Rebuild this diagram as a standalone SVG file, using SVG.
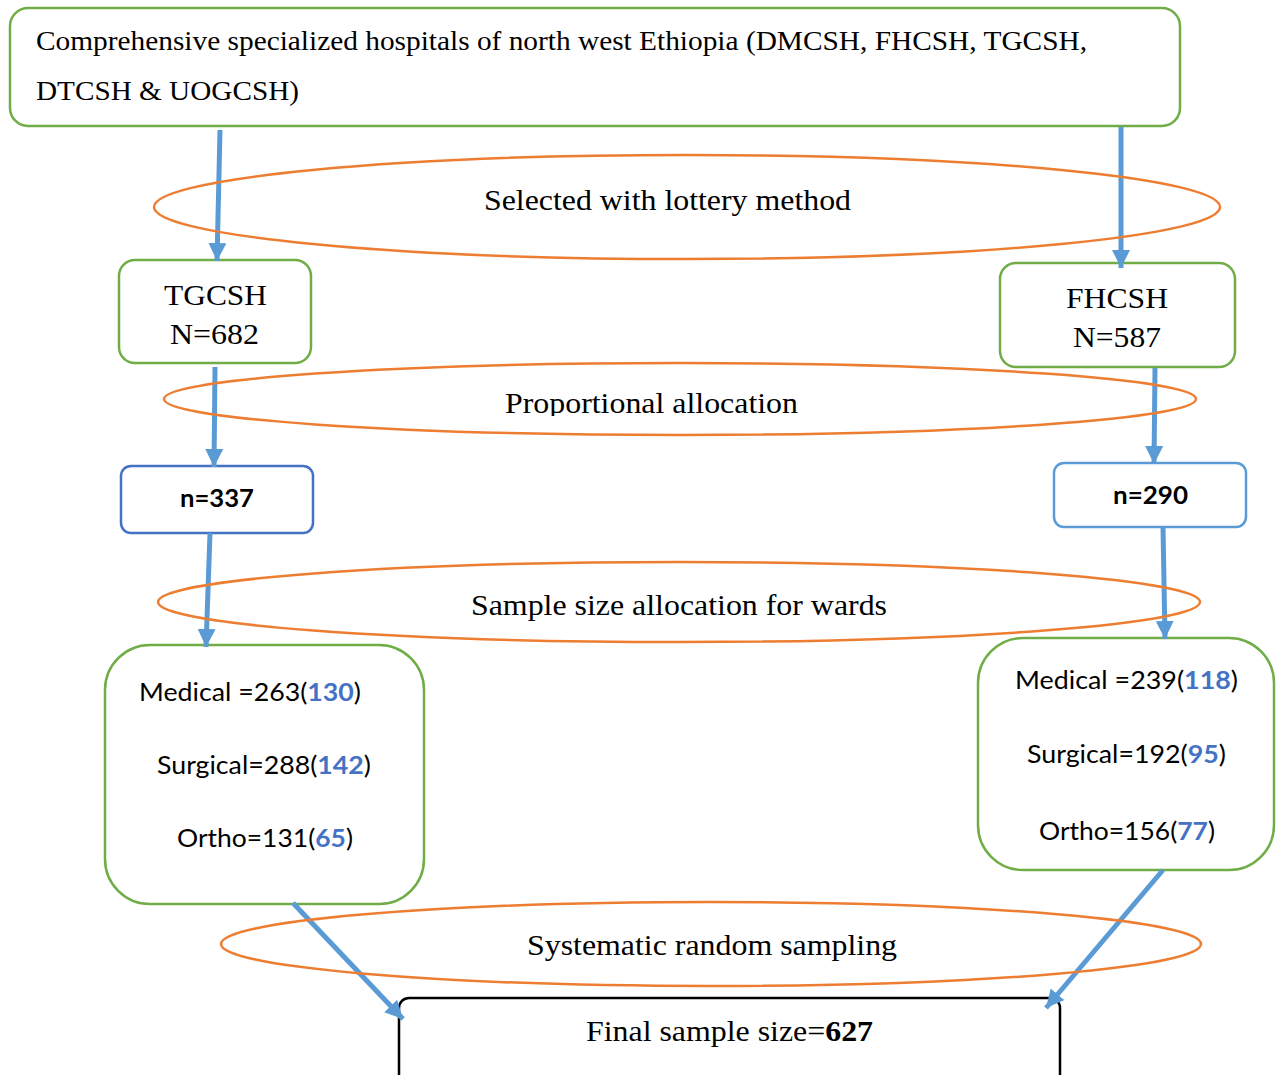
<svg xmlns="http://www.w3.org/2000/svg" width="1276" height="1075" viewBox="0 0 1276 1075">
<defs>
<style>
.box{fill:#fff;stroke:#70AD47;stroke-width:2.5}
.bluebox{fill:#fff;stroke:#4472C4;stroke-width:2.5}
.lbluebox{fill:#fff;stroke:#5B9BD5;stroke-width:2.5}
.blackbox{fill:#fff;stroke:#000;stroke-width:2.5}
.oval{fill:none;stroke:#ED7D31;stroke-width:2.5}
.serif{font-family:"Liberation Serif","Times New Roman",serif;fill:#000}
.sans{font-family:Lato,"Liberation Sans",sans-serif;fill:#000}
.num{fill:#4472C4;font-weight:bold}
.arrow{stroke:#5B9BD5;stroke-width:5;fill:none;marker-end:url(#ah)}
</style>
<marker id="ah" markerUnits="userSpaceOnUse" markerWidth="18" markerHeight="18" viewBox="0 0 18 18" refX="18" refY="9" orient="auto">
<path d="M0,0 L18,9 L0,18 Z" fill="#5B9BD5"/>
</marker>
<clipPath id="clipProp"><rect x="0" y="360" width="1276" height="56"/></clipPath>
</defs>

<g id="top">
<rect class="box" x="10" y="8" width="1170" height="118" rx="18"/>
<text class="serif" x="36" y="50" font-size="27" textLength="1051" lengthAdjust="spacingAndGlyphs">Comprehensive specialized hospitals of north west Ethiopia (DMCSH, FHCSH, TGCSH,</text>
<text class="serif" x="36" y="100" font-size="27" textLength="263" lengthAdjust="spacingAndGlyphs">DTCSH &amp; UOGCSH)</text>
</g>

<g id="tgcsh">
<rect class="box" x="119" y="260" width="192" height="103" rx="16"/>
<text class="serif" x="164" y="305" font-size="30" textLength="103" lengthAdjust="spacingAndGlyphs">TGCSH</text>
<text class="serif" x="170" y="344" font-size="30" textLength="89" lengthAdjust="spacingAndGlyphs">N=682</text>
</g>

<g id="fhcsh">
<rect class="box" x="1000" y="263" width="235" height="104" rx="16"/>
<text class="serif" x="1066" y="308" font-size="30" textLength="102" lengthAdjust="spacingAndGlyphs">FHCSH</text>
<text class="serif" x="1073" y="347" font-size="30" textLength="88" lengthAdjust="spacingAndGlyphs">N=587</text>
</g>

<g id="n337">
<rect class="bluebox" x="121" y="466" width="192" height="67" rx="10"/>
<text class="sans" x="180" y="507" font-size="24" font-weight="bold" textLength="74" lengthAdjust="spacingAndGlyphs">n=337</text>
</g>

<g id="n290">
<rect class="lbluebox" x="1054" y="463" width="192" height="64" rx="10"/>
<text class="sans" x="1113" y="504" font-size="24" font-weight="bold" textLength="75" lengthAdjust="spacingAndGlyphs">n=290</text>
</g>

<g id="wardsLeft">
<rect class="box" x="105" y="645" width="319" height="259" rx="45"/>
<text class="sans" x="139" y="701" font-size="25" textLength="222" lengthAdjust="spacingAndGlyphs">Medical =263(<tspan class="num">130</tspan>)</text>
<text class="sans" x="157" y="774" font-size="25" textLength="214" lengthAdjust="spacingAndGlyphs">Surgical=288(<tspan class="num">142</tspan>)</text>
<text class="sans" x="177" y="847" font-size="25" textLength="176" lengthAdjust="spacingAndGlyphs">Ortho=131(<tspan class="num">65</tspan>)</text>
</g>

<g id="wardsRight">
<rect class="box" x="978" y="638" width="296" height="232" rx="45"/>
<text class="sans" x="1015" y="689" font-size="25" textLength="223" lengthAdjust="spacingAndGlyphs">Medical =239(<tspan class="num">118</tspan>)</text>
<text class="sans" x="1027" y="763" font-size="25" textLength="199" lengthAdjust="spacingAndGlyphs">Surgical=192(<tspan class="num">95</tspan>)</text>
<text class="sans" x="1039" y="840" font-size="25" textLength="176" lengthAdjust="spacingAndGlyphs">Ortho=156(<tspan class="num">77</tspan>)</text>
</g>

<g id="final">
<rect class="blackbox" x="399" y="998" width="661" height="90" rx="10"/>
<text class="serif" x="586" y="1041" font-size="30" textLength="287" lengthAdjust="spacingAndGlyphs">Final sample size=<tspan font-weight="bold">627</tspan></text>
</g>

<g id="connectors">
<line class="arrow" x1="220" y1="130" x2="217" y2="261"/>
<line class="arrow" x1="1121" y1="127" x2="1121" y2="268"/>
<line class="arrow" x1="215" y1="367" x2="214" y2="467"/>
<line class="arrow" x1="1155" y1="368" x2="1154" y2="464"/>
<line class="arrow" x1="210" y1="533" x2="206" y2="647"/>
<line class="arrow" x1="1163" y1="527" x2="1165" y2="639"/>
<line class="arrow" x1="293" y1="903" x2="403" y2="1019"/>
<line class="arrow" x1="1163" y1="870" x2="1046" y2="1008"/>
</g>

<g id="lottery">
<ellipse class="oval" cx="687" cy="207" rx="533" ry="52"/>
<text class="serif" x="484" y="210" font-size="30" textLength="367" lengthAdjust="spacingAndGlyphs">Selected with lottery method</text>
</g>

<g id="proportional">
<ellipse class="oval" cx="680" cy="399" rx="516" ry="36"/>
<text class="serif" x="505" y="413" font-size="30" textLength="293" lengthAdjust="spacingAndGlyphs" clip-path="url(#clipProp)">Proportional allocation</text>
</g>

<g id="wardAlloc">
<ellipse class="oval" cx="679" cy="602" rx="521" ry="40"/>
<text class="serif" x="471" y="615" font-size="30" textLength="416" lengthAdjust="spacingAndGlyphs">Sample size allocation for wards</text>
</g>

<g id="systematic">
<ellipse class="oval" cx="711" cy="944" rx="490" ry="42"/>
<text class="serif" x="527" y="955" font-size="30" textLength="370" lengthAdjust="spacingAndGlyphs">Systematic random sampling</text>
</g>
</svg>
